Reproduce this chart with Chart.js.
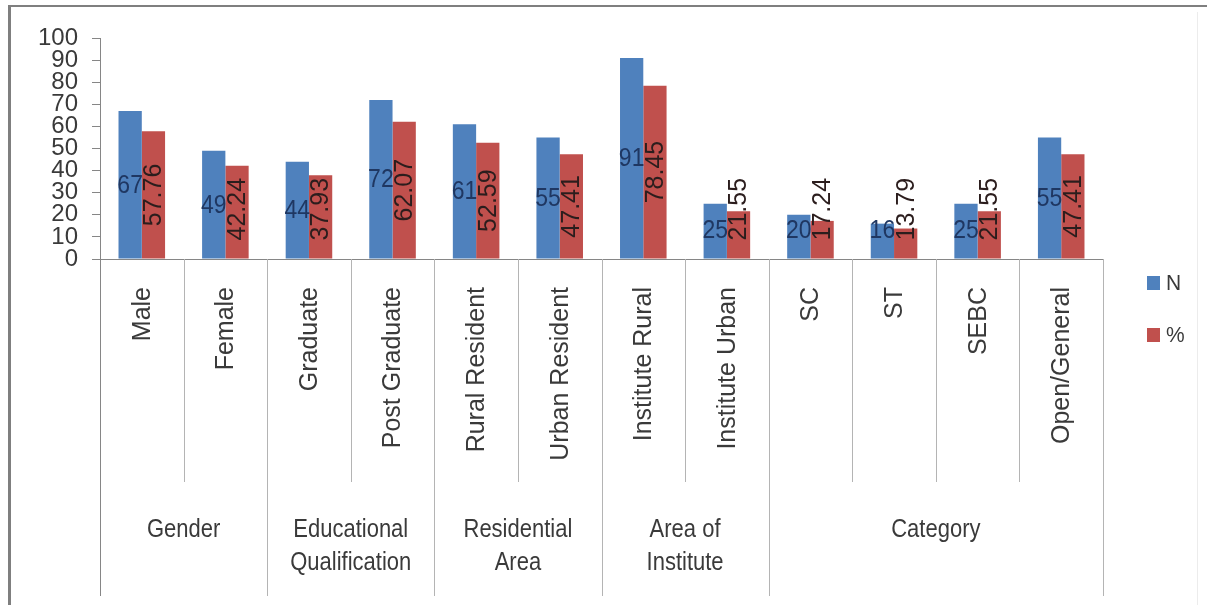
<!DOCTYPE html>
<html>
<head>
<meta charset="utf-8">
<script src="https://cdn.jsdelivr.net/npm/chart.js@4/dist/chart.umd.min.js"></script>
<style>
  html, body { margin: 0; padding: 0; background: #ffffff; }
  #wrap { width: 1207px; height: 605px; position: relative; }
</style>
</head>
<body>
<div id="wrap"><canvas id="c" width="1207" height="605"></canvas></div>
<script>
// Categories, grouped under a second-level heading
const categories = ['Male', 'Female', 'Graduate', 'Post Graduate', 'Rural Resident', 'Urban Resident',
  'Institute Rural', 'Institute Urban', 'SC', 'ST', 'SEBC', 'Open/General'];
const groupLabels = [['Gender'], ['Educational', 'Qualification'], ['Residential', 'Area'],
  ['Area of', 'Institute'], ['Category']];
const groupSizes = [2, 2, 2, 2, 4];

// Series values
const seriesN = [67, 49, 44, 72, 61, 55, 91, 25, 20, 16, 25, 55];
const seriesPct = [57.76, 42.24, 37.93, 62.07, 52.59, 47.41, 78.45, 21.55, 17.24, 13.79, 21.55, 47.41];
const seriesNames = ['N', '%'];

// Value axis
const yMin = 0, yMax = 100, yStep = 10;

const FONT = "'Liberation Sans', Arial, sans-serif";
const BLUE = '#4F81BD';
const RED = '#C0504D';
const AXIS = '#868686';
const SEP = '#b4b4b4';
const TEXT = '#3a3a3a';

function drawText(ctx, s, x, y, o) {
  ctx.save();
  ctx.font = o.font;
  ctx.fillStyle = o.color || TEXT;
  ctx.textAlign = o.align || 'left';
  ctx.textBaseline = o.baseline || 'alphabetic';
  ctx.translate(x, y);
  if (o.rot) ctx.rotate(o.rot);
  if (o.sy) ctx.scale(1, o.sy);
  ctx.fillText(s, 0, 0);
  ctx.restore();
}

const decorations = {
  id: 'decorations',
  beforeDraw(chart) {
    const ctx = chart.ctx;
    ctx.save();
    ctx.fillStyle = '#ffffff';
    ctx.fillRect(0, 0, chart.width, chart.height);
    // frame
    ctx.fillStyle = '#7f7f7f';
    ctx.fillRect(8, 5, chart.width - 8, 2);
    ctx.fillRect(8, 5, 3, chart.height - 5);
    ctx.fillStyle = '#ececec';
    ctx.fillRect(1197, 12, 1, chart.height - 12);
    ctx.restore();
  },
  afterDraw(chart) {
    const ctx = chart.ctx;
    const xs = chart.scales.x;
    const area = chart.chartArea;
    const n = categories.length;
    const cw = (area.right - area.left) / n;
    const base = area.bottom;

    // boundaries of the category axis
    const groupEdges = new Set([0]);
    let acc = 0;
    groupSizes.forEach(g => { acc += g; groupEdges.add(acc); });
    ctx.save();
    for (let i = 0; i <= n; i++) {
      const x = Math.round(xs.getPixelForValue(0) - cw / 2 + i * cw) + 0.5;
      const isGroup = groupEdges.has(i);
      ctx.strokeStyle = (i === 0) ? AXIS : SEP;
      ctx.lineWidth = 1;
      ctx.beginPath();
      ctx.moveTo(x, base);
      ctx.lineTo(x, isGroup ? 596 : 482);
      ctx.stroke();
    }
    ctx.restore();

    // category labels, rotated
    categories.forEach((c, i) => {
      const x = xs.getPixelForValue(i);
      drawText(ctx, c, x + 1, 287, { font: '25px ' + FONT, align: 'right', baseline: 'middle', rot: -Math.PI / 2 });
    });

    // group labels
    let start = 0;
    groupLabels.forEach((lines, gi) => {
      const end = start + groupSizes[gi];
      const x0 = xs.getPixelForValue(start) - cw / 2;
      const x1 = xs.getPixelForValue(end - 1) + cw / 2;
      const cx = (x0 + x1) / 2;
      lines.forEach((ln, li) => {
        drawText(ctx, ln, cx, 537 + li * 33, { font: '22px ' + FONT, align: 'center', sy: 1.15 });
      });
      start = end;
    });

    // value labels
    const m0 = chart.getDatasetMeta(0);
    const m1 = chart.getDatasetMeta(1);
    m0.data.forEach((bar, i) => {
      let cy = (bar.y + bar.base) / 2;
      cy = Math.min(cy, bar.base - 29);
      drawText(ctx, String(seriesN[i]), bar.x, cy + 8, { font: '23px ' + FONT, align: 'center', sy: 1.1, color: '#1f3762' });
    });
    ctx.save();
    ctx.font = '25px ' + FONT;
    m1.data.forEach((bar, i) => {
      const s = seriesPct[i].toFixed(2);
      const w = ctx.measureText(s).width;
      let cy = (bar.y + bar.base) / 2;
      cy = Math.min(cy, bar.base - 18 - w / 2);
      drawText(ctx, s, bar.x + 1, cy, { font: '25px ' + FONT, align: 'center', baseline: 'middle', rot: -Math.PI / 2, color: '#2b1d1d' });
    });
    ctx.restore();

    // legend
    const legendY = [276, 328];
    [BLUE, RED].forEach((col, k) => {
      ctx.save();
      ctx.fillStyle = col;
      ctx.fillRect(1147, legendY[k], 13, 14);
      ctx.restore();
      drawText(ctx, seriesNames[k], 1166, legendY[k] + 14, { font: '21px ' + FONT, sy: 1.05 });
    });
  }
};

new Chart(document.getElementById('c'), {
  type: 'bar',
  data: {
    labels: categories,
    datasets: [
      { label: seriesNames[0], data: seriesN, backgroundColor: BLUE, borderWidth: 0 },
      { label: seriesNames[1], data: seriesPct, backgroundColor: RED, borderWidth: 0 }
    ]
  },
  options: {
    responsive: false,
    animation: false,
    devicePixelRatio: 1,
    layout: { padding: { top: 38, right: 104, left: 0, bottom: 0 } },
    datasets: { bar: { categoryPercentage: 0.557, barPercentage: 1.0 } },
    plugins: { legend: { display: false }, tooltip: { enabled: false } },
    scales: {
      x: {
        grid: { display: false },
        border: { display: true, color: AXIS, width: 1 },
        ticks: { display: false },
        afterFit(scale) { scale.height = 346; }
      },
      y: {
        min: yMin,
        max: yMax,
        grid: { drawOnChartArea: false, drawTicks: true, tickLength: 8, color: AXIS },
        border: { display: true, color: AXIS, width: 1 },
        ticks: { stepSize: yStep, autoSkip: false, padding: 14, color: TEXT, font: { family: FONT, size: 24 } },
        afterFit(scale) { scale.width = 100; }
      }
    }
  },
  plugins: [decorations]
});
</script>
</body>
</html>
